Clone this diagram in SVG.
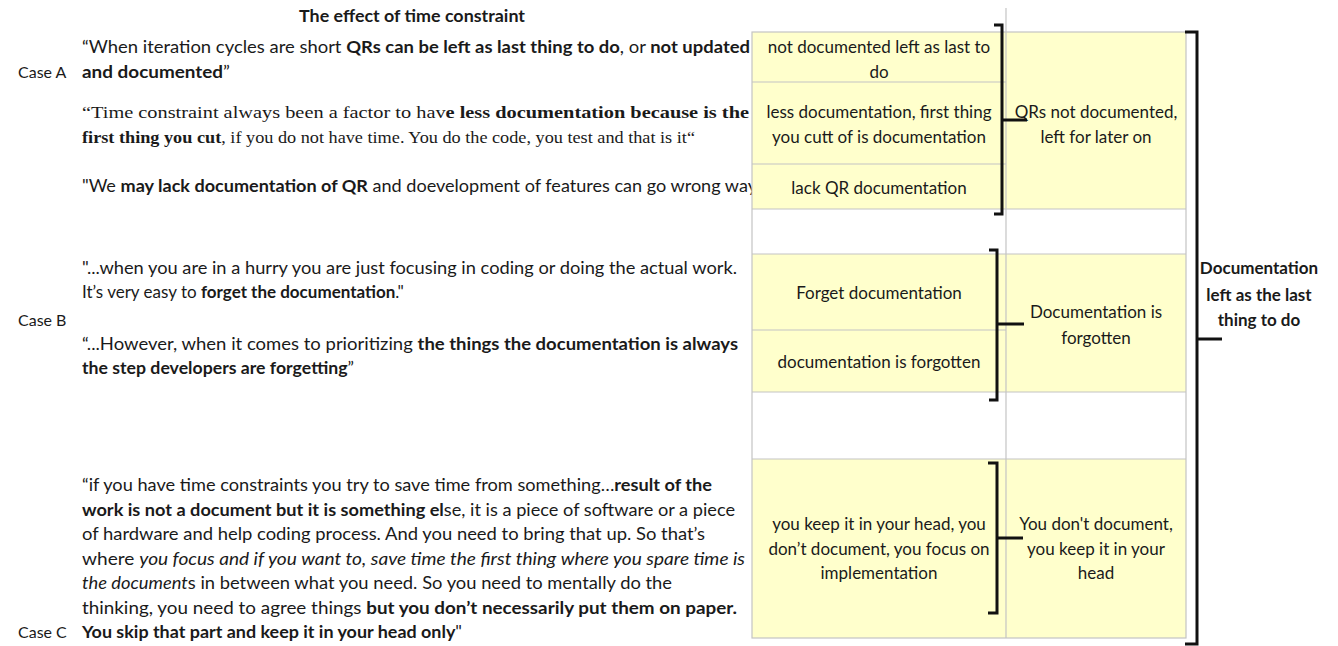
<svg xmlns="http://www.w3.org/2000/svg" width="1338" height="646" viewBox="0 0 1338 646">
<style>
.t{font-family:Lato,"Liberation Sans",sans-serif;font-size:17px;fill:#1a1a1a}
.s{font-size:16px}
.tr{font-family:"Liberation Serif",serif;font-size:17px;fill:#1a1a1a}
.b{font-weight:bold}
.i{font-style:italic}
.c{text-anchor:middle}
.cell{fill:#ffffcc;stroke:none}
.grid{stroke:#c4c4c4;stroke-width:1.2;fill:none}
.br{stroke:#111;stroke-width:3;fill:none;stroke-linejoin:miter}
</style>
<rect width="1338" height="646" fill="#fff"/>
<g id="title"><text class="t b c" x="412" y="22" textLength="226" lengthAdjust="spacingAndGlyphs">The effect of time constraint</text></g>
<g id="caseA">
<text class="t s" x="18" y="78">Case A</text>
<text class="t" x="82" y="53" textLength="668" lengthAdjust="spacingAndGlyphs">“When iteration cycles are short <tspan class="b">QRs can be left as last thing to do</tspan>, or <tspan class="b">not updated</tspan></text>
<text class="t" x="82" y="78" textLength="148" lengthAdjust="spacingAndGlyphs"><tspan class="b">and documented</tspan>”</text>
<text class="tr" x="82" y="118" textLength="667" lengthAdjust="spacingAndGlyphs">“Time constraint always been a factor to hav<tspan class="b">e less documentation because is the</tspan></text>
<text class="tr" x="82" y="143" textLength="613" lengthAdjust="spacingAndGlyphs"><tspan class="b">first thing you cut</tspan>, if you do not have time. You do the code, you test and that is it“</text>
<text class="t" x="82" y="192" textLength="675" lengthAdjust="spacingAndGlyphs">"We <tspan class="b">may lack documentation of QR</tspan> and doevelopment of features can go wrong way</text>
</g>
<g id="caseB">
<text class="t s" x="18" y="326">Case B</text>
<text class="t" x="82" y="274" textLength="655" lengthAdjust="spacingAndGlyphs">"...when you are in a hurry you are just focusing in coding or doing the actual work.</text>
<text class="t" x="82" y="298" font-size="16">It’s very easy to <tspan class="b">forget the documentation</tspan>."</text>
<text class="t" x="82" y="350" textLength="656" lengthAdjust="spacingAndGlyphs">“...However, when it comes to prioritizing <tspan class="b">the things the documentation is always</tspan></text>
<text class="t" x="82" y="374" textLength="272" lengthAdjust="spacingAndGlyphs"><tspan class="b">the step developers are forgetting</tspan>”</text>
</g>
<g id="caseC">
<text class="t s" x="18" y="638">Case C</text>
<text class="t" x="82" y="491" textLength="630" lengthAdjust="spacingAndGlyphs">“if you have time constraints you try to save time from something…<tspan class="b">result of the</tspan></text>
<text class="t" x="82" y="515.5" textLength="653" lengthAdjust="spacingAndGlyphs"><tspan class="b">work is not a document but it is something el</tspan>se, it is a piece of software or a piece</text>
<text class="t" x="82" y="540" textLength="623" lengthAdjust="spacingAndGlyphs">of hardware and help coding process. And you need to bring that up. So that’s</text>
<text class="t" x="82" y="564.5" textLength="663" lengthAdjust="spacingAndGlyphs">where <tspan class="i">you focus and if you want to, save time the first thing where you spare time is</tspan></text>
<text class="t" x="82" y="589" textLength="590" lengthAdjust="spacingAndGlyphs"><tspan class="i">the document</tspan>s in between what you need. So you need to mentally do the</text>
<text class="t" x="82" y="613.5" textLength="655" lengthAdjust="spacingAndGlyphs">thinking, you need to agree things <tspan class="b">but you don’t necessarily put them on paper.</tspan></text>
<text class="t" x="82" y="638" textLength="380" lengthAdjust="spacingAndGlyphs"><tspan class="b">You skip that part and keep it in your head only</tspan>"</text>
</g>
<g id="table">
<rect class="cell" x="752" y="32" width="434" height="177"/>
<rect class="cell" x="752" y="254" width="434" height="138"/>
<rect class="cell" x="752" y="459" width="434" height="179"/>
<line class="grid" x1="1006" y1="8" x2="1006" y2="638"/>
<rect class="grid" x="752" y="32" width="434" height="606"/>
<line class="grid" x1="752" y1="82" x2="1006" y2="82"/>
<line class="grid" x1="752" y1="164" x2="1006" y2="164"/>
<line class="grid" x1="752" y1="209" x2="1186" y2="209"/>
<line class="grid" x1="752" y1="254" x2="1186" y2="254"/>
<line class="grid" x1="752" y1="330" x2="1006" y2="330"/>
<line class="grid" x1="752" y1="392" x2="1186" y2="392"/>
<line class="grid" x1="752" y1="459" x2="1186" y2="459"/>
</g>
<g id="n1"><text class="t c" x="879" y="53">not documented left as last to</text><text class="t c" x="879" y="78">do</text></g>
<g id="n2"><text class="t c" x="879" y="118">less documentation, first thing</text><text class="t c" x="879" y="143">you cutt of is documentation</text></g>
<g id="n3"><text class="t c" x="879" y="194">lack QR documentation</text></g>
<g id="n4"><text class="t c" x="879" y="299">Forget documentation</text></g>
<g id="n5"><text class="t c" x="879" y="368">documentation is forgotten</text></g>
<g id="n6"><text class="t c" x="879" y="530">you keep it in your head, you</text><text class="t c" x="879" y="554.5">don’t document, you focus on</text><text class="t c" x="879" y="579">implementation</text></g>
<g id="m1"><text class="t c" x="1096" y="118">QRs not documented,</text><text class="t c" x="1096" y="143">left for later on</text></g>
<g id="m2"><text class="t c" x="1096" y="318">Documentation is</text><text class="t c" x="1096" y="344">forgotten</text></g>
<g id="m3"><text class="t c" x="1096" y="530">You don't document,</text><text class="t c" x="1096" y="554.5">you keep it in your</text><text class="t c" x="1096" y="579">head</text></g>
<g id="top"><text class="t b c" x="1259" y="274">Documentation</text><text class="t b c" x="1259" y="301">left as the last</text><text class="t b c" x="1259" y="326">thing to do</text></g>
<g id="connectors">
<path class="br" d="M994,25 H1002 V214 H994 M1002,120 H1027"/>
<path class="br" d="M989,250 H997 V400 H989 M997,324 H1024"/>
<path class="br" d="M988,463 H997 V613 H988 M997,538 H1023"/>
<path class="br" d="M1185,32 H1197 V644 H1185 M1197,339 H1222"/>
</g>
</svg>
